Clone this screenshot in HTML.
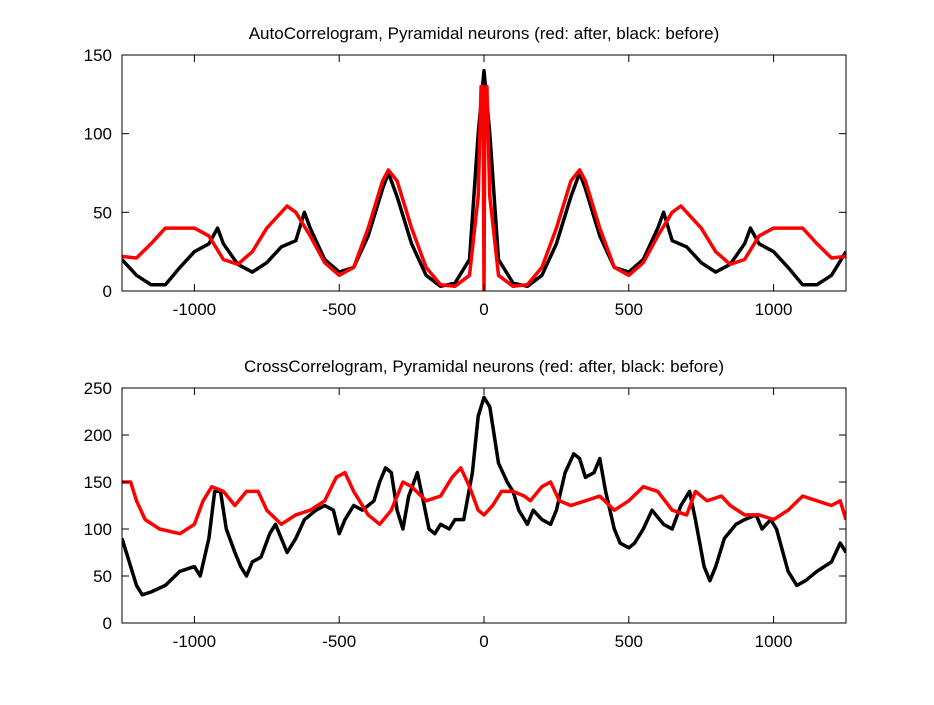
<!DOCTYPE html>
<html><head><meta charset="utf-8"><style>
body{margin:0;background:#fff;}
svg text{font-family:"Liberation Sans",sans-serif;font-size:17px;fill:#000;}
</style></head><body>
<svg id="c" width="934" height="700"></svg>
<script>
// Top plot data
const autoBeforeX=[-1250,-1200,-1150,-1100,-1050,-1000,-950,-920,-900,-850,-800,-750,-700,-650,-620,-600,-550,-500,-450,-400,-350,-330,-300,-250,-200,-150,-100,-50,-20,0,10,20,50,100,150,200,250,300,330,350,400,450,500,550,600,620,650,700,750,800,850,900,920,950,1000,1050,1100,1150,1200,1250];
const autoBeforeY=[20,10,4,4,15,25,30,40,30,17,12,18,28,32,50,40,20,12,15,35,65,75,60,30,10,3,5,20,100,140,120,100,20,5,3,10,30,60,75,65,35,15,12,20,40,50,32,28,18,12,17,30,40,30,25,15,4,4,10,25];
const autoAfterX=[-1250,-1200,-1150,-1100,-1050,-1000,-950,-900,-850,-800,-750,-700,-680,-650,-600,-550,-500,-450,-400,-350,-330,-300,-250,-200,-150,-100,-50,-20,-10,-3,0,3,10,20,50,100,150,200,250,300,330,350,400,450,500,550,600,650,680,700,750,800,850,900,950,1000,1050,1100,1150,1200,1250];
const autoAfterY=[22,21,30,40,40,40,35,20,17,25,40,50,54,50,35,18,10,15,40,70,77,70,40,15,4,3,10,60,130,130,0,125,130,60,10,3,4,15,40,70,77,70,40,15,10,18,35,50,54,50,40,25,17,20,35,40,40,40,30,21,22];
// Bottom plot data
const crossBeforeX=[-1250,-1220,-1200,-1180,-1150,-1100,-1050,-1000,-980,-950,-930,-910,-890,-860,-840,-820,-800,-770,-740,-720,-700,-680,-650,-620,-580,-550,-520,-500,-480,-450,-420,-380,-360,-340,-320,-300,-280,-260,-230,-210,-190,-170,-150,-120,-100,-70,-40,-20,0,20,50,80,100,120,150,170,200,230,250,280,310,330,350,380,400,420,450,470,500,520,550,580,620,650,680,710,730,760,780,800,830,870,900,940,960,990,1010,1050,1080,1110,1150,1200,1230,1250];
const crossBeforeY=[90,60,40,30,33,40,55,60,50,90,140,140,100,75,60,50,65,70,95,105,90,75,90,110,120,125,120,95,110,125,120,130,150,165,160,120,100,135,160,130,100,95,105,100,110,110,160,220,240,230,170,150,140,120,105,120,110,105,120,160,180,175,155,160,175,140,100,85,80,85,100,120,105,100,125,140,110,60,45,60,90,105,110,115,100,110,100,55,40,45,55,65,85,75];
const crossAfterX=[-1250,-1220,-1200,-1170,-1120,-1050,-1000,-970,-940,-900,-860,-820,-780,-750,-700,-650,-600,-550,-510,-480,-450,-400,-360,-320,-280,-250,-200,-150,-110,-80,-50,-20,0,30,60,100,140,160,200,230,260,300,350,400,450,500,550,600,650,700,730,770,820,850,900,950,1000,1050,1100,1150,1200,1230,1250];
const crossAfterY=[150,150,130,110,100,95,105,130,145,140,125,140,140,120,105,115,120,130,155,160,140,115,105,120,150,145,130,135,155,165,145,120,115,125,140,140,135,130,145,150,130,125,130,135,120,130,145,140,120,115,140,130,135,125,115,115,110,120,135,130,125,130,110];
const xTicks=[-1000,-500,0,500,1000];
const topYTicks=[0,50,100,150];
const botYTicks=[0,50,100,150,200,250];

const NS="http://www.w3.org/2000/svg";
const svg=document.getElementById('c');
function mk(t,a,p){const e=document.createElementNS(NS,t);for(const k in a)e.setAttribute(k,a[k]);(p||svg).appendChild(e);return e;}
const X0=122,X1=846;
function sx(v){return X0+(v+1250)/2500*(X1-X0);}
function panel(top,bot,ymax,yt,title,series,name){
  const g=mk('g',{});
  
  
  const sy=v=>bot-(v/ymax)*(bot-top);
  const clipId=name+'-clip';
  const cp=mk('clipPath',{id:clipId},g);mk('rect',{x:X0,y:top,width:X1-X0,height:bot-top},cp);
  series.forEach(s=>{
    const pts=s.x.map((xv,i)=>sx(xv).toFixed(1)+','+sy(s.y[i]).toFixed(1)).join(' ');
    const pl=mk('polyline',{points:pts,fill:'none',stroke:s.c,'stroke-width':3.5,'stroke-linejoin':'round','clip-path':'url(#'+clipId+')'},g);
    
    
  });
  const box=mk('rect',{x:X0,y:top,width:X1-X0,height:bot-top,fill:'none',stroke:'#000','stroke-width':1},g);
  
  
  xTicks.forEach(t=>{
    mk('line',{x1:sx(t),x2:sx(t),y1:bot,y2:bot-7,stroke:'#000'},g);
    mk('line',{x1:sx(t),x2:sx(t),y1:top,y2:top+7,stroke:'#000'},g);
    const tx=mk('text',{x:sx(t),y:bot+24,'text-anchor':'middle'},g);tx.textContent=t;
    
    
  });
  yt.forEach(t=>{
    mk('line',{x1:X0,x2:X0+7,y1:sy(t),y2:sy(t),stroke:'#000'},g);
    mk('line',{x1:X1,x2:X1-7,y1:sy(t),y2:sy(t),stroke:'#000'},g);
    const tx=mk('text',{x:X0-10,y:sy(t)+6,'text-anchor':'end'},g);tx.textContent=t;
    
    
  });
  const tt=mk('text',{x:(X0+X1)/2,y:top-16,'text-anchor':'middle'},g);tt.textContent=title;
  
  
}
panel(55,291,150,topYTicks,'AutoCorrelogram, Pyramidal neurons (red: after, black: before)',
 [{x:autoBeforeX,y:autoBeforeY,c:'#000',n:'auto-before-line'},{x:autoAfterX,y:autoAfterY,c:'#f00',n:'auto-after-line'}],'autocorrelogram-panel');
panel(388,623,250,botYTicks,'CrossCorrelogram, Pyramidal neurons (red: after, black: before)',
 [{x:crossBeforeX,y:crossBeforeY,c:'#000',n:'cross-before-line'},{x:crossAfterX,y:crossAfterY,c:'#f00',n:'cross-after-line'}],'crosscorrelogram-panel');
</script>
</body></html>
